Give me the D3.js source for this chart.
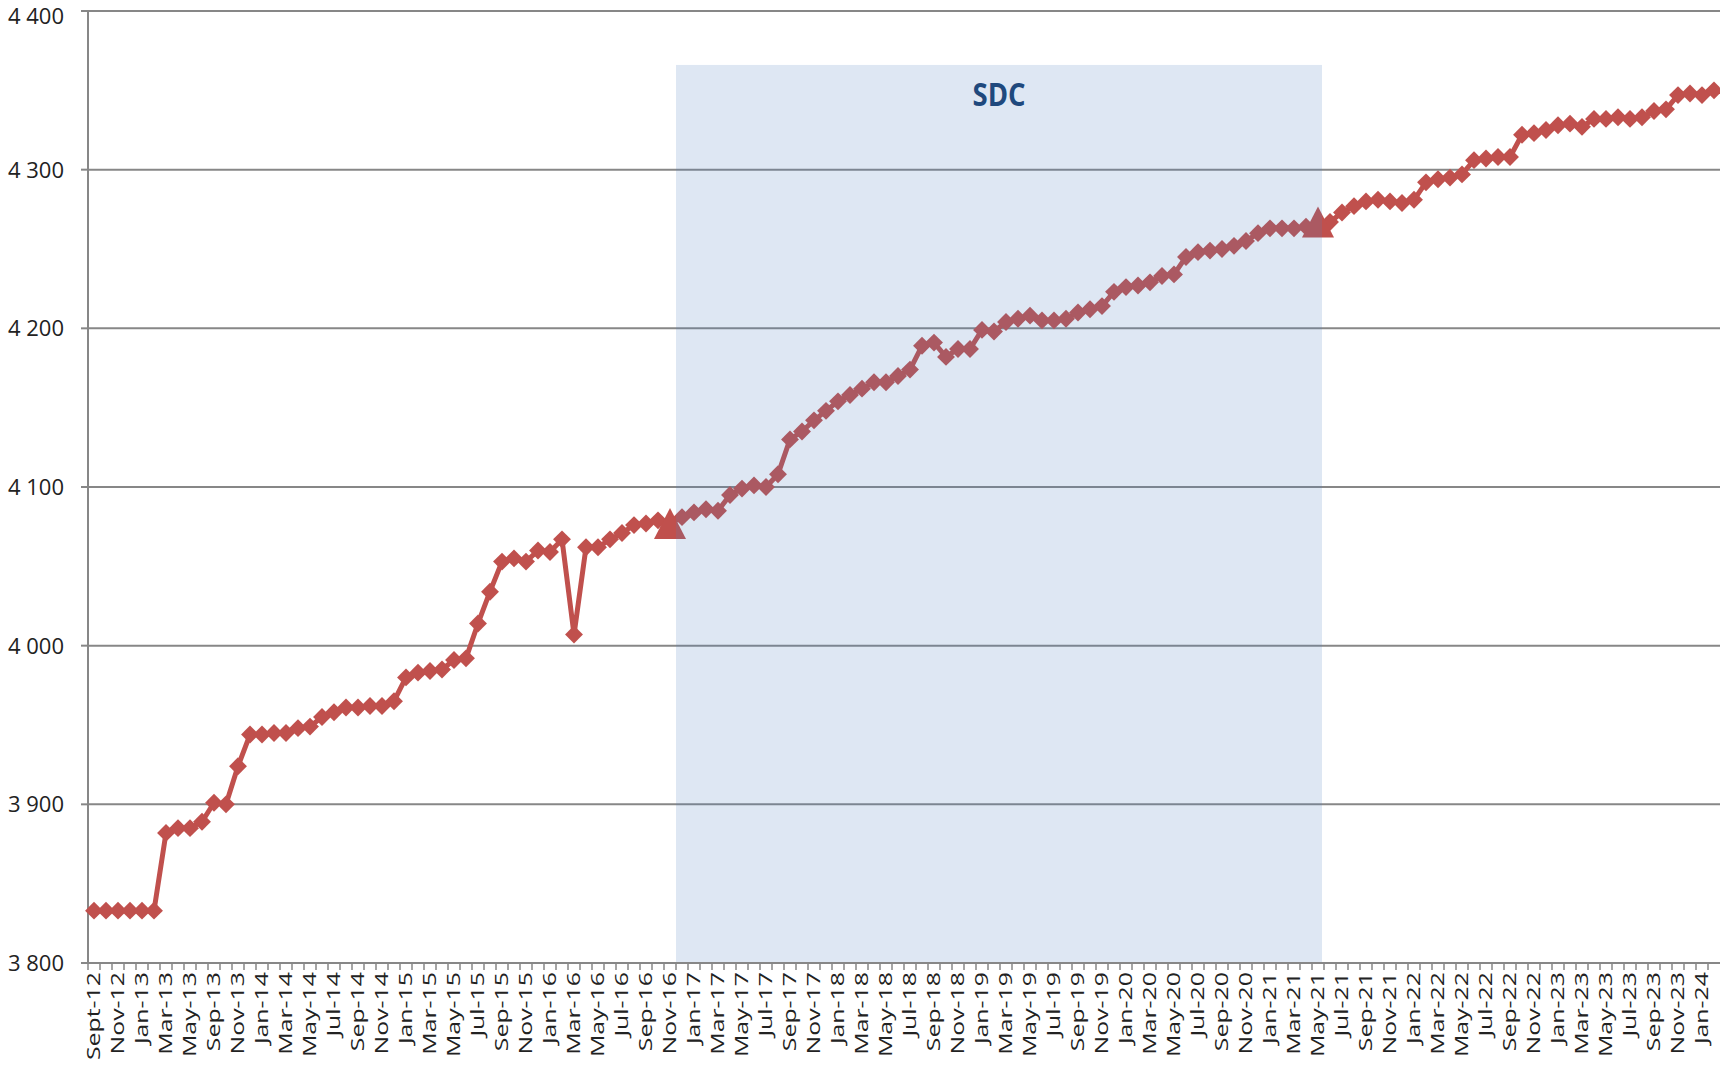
<!DOCTYPE html>
<html>
<head>
<meta charset="utf-8">
<script src="https://cdn.jsdelivr.net/npm/d3@7"></script>
<style>
  html, body { margin: 0; padding: 0; background: #ffffff; }
  svg { display: block; }
</style>
</head>
<body>
<svg id="chart" width="1720" height="1065"></svg>
<script>
// ---------- DATA ----------
const categories = [
  "Sept-12","Oct-12","Nov-12","Dec-12","Jan-13","Feb-13","Mar-13","Apr-13","May-13","Jul-13","Sep-13","Oct-13","Nov-13","Dec-13",
  "Jan-14","Feb-14","Mar-14","Apr-14","May-14","Jun-14","Jul-14","Aug-14","Sep-14","Oct-14","Nov-14","Dec-14",
  "Jan-15","Feb-15","Mar-15","Apr-15","May-15","Jun-15","Jul-15","Aug-15","Sep-15","Oct-15","Nov-15","Dec-15",
  "Jan-16","Feb-16","Mar-16","Apr-16","May-16","Jun-16","Jul-16","Aug-16","Sep-16","Oct-16","Nov-16","Dec-16",
  "Jan-17","Feb-17","Mar-17","Apr-17","May-17","Jun-17","Jul-17","Aug-17","Sep-17","Oct-17","Nov-17","Dec-17",
  "Jan-18","Feb-18","Mar-18","Apr-18","May-18","Jun-18","Jul-18","Aug-18","Sep-18","Oct-18","Nov-18","Dec-18",
  "Jan-19","Feb-19","Mar-19","Apr-19","May-19","Jun-19","Jul-19","Aug-19","Sep-19","Oct-19","Nov-19","Dec-19",
  "Jan-20","Feb-20","Mar-20","Apr-20","May-20","Jun-20","Jul-20","Aug-20","Sep-20","Oct-20","Nov-20","Dec-20",
  "Jan-21","Feb-21","Mar-21","Apr-21","May-21","Jun-21","Jul-21","Aug-21","Sep-21","Oct-21","Nov-21","Dec-21",
  "Jan-22","Feb-22","Mar-22","Apr-22","May-22","Jun-22","Jul-22","Aug-22","Sep-22","Oct-22","Nov-22","Dec-22",
  "Jan-23","Feb-23","Mar-23","Apr-23","May-23","Jun-23","Jul-23","Aug-23","Sep-23","Oct-23","Nov-23","Dec-23",
  "Jan-24","Feb-24"
];

const values = [
  3833,3833,3833,3833,3833,3833,3882,3885,3885,3889,3901,3900,3924,3944,
  3944,3945,3945,3948,3949,3955,3958,3961,3961,3962,3962,3965,
  3980,3983,3984,3985,3991,3992,4014,4034,4053,4055,4053,4060,
  4059,4067,4007,4062,4062,4067,4071,4076,4077,4079,4077,4081,
  4084,4086,4085,4095,4099,4101,4100,4108,4130,4135,4142,4148,
  4154,4158,4162,4166,4166,4170,4174,4189,4191,4182,4187,4187,
  4199,4198,4204,4206,4208,4205,4205,4206,4210,4212,4214,4223,
  4226,4227,4229,4233,4234,4245,4248,4249,4250,4252,4255,4260,
  4263,4263,4263,4264,4267,4267,4273,4277,4280,4281,4280,4279,
  4281,4292,4294,4295,4297,4306,4307,4308,4308,4322,4323,4325,
  4328,4329,4327,4332,4332,4333,4332,4333,4337,4338,4347,4348,
  4347,4350
];

const yTicks = [3800, 3900, 4000, 4100, 4200, 4300, 4400];
const triangleCats = ["Nov-16", "May-21"];
const shadeStart = "Nov-16";
const shadeEnd = "May-21";
const shadeTop = 4366;
const shadeLabel = "SDC";

(function () {
// ---------- LAYOUT ----------
const mLeft = 88, mRight = 1720, mTop = 11, mBottom = 963;
const svg = d3.select("#chart");

const x = d3.scaleBand().domain(categories).range([mLeft, mRight]).paddingInner(0).paddingOuter(0);
const bw = x.bandwidth();
const cx = c => x(c) + bw / 2;
const y = d3.scaleLinear().domain([3800, 4400]).range([mBottom, mTop]);

const data = categories.map((c, i) => ({ cat: c, v: values[i] }));
const fmt = d3.formatLocale({ decimal: ",", thousands: " ", grouping: [3], currency: ["", ""] }).format(",");

const gridColor = "#878787";
const red = "#c0504d";

// gridlines
svg.append("g").selectAll("line").data(yTicks.filter(t => t !== 3800)).join("line")
  .attr("x1", mLeft).attr("x2", mRight)
  .attr("y1", d => y(d)).attr("y2", d => y(d))
  .attr("stroke", gridColor).attr("stroke-width", 2);

// y axis line + ticks
svg.append("line").attr("x1", mLeft).attr("x2", mLeft).attr("y1", y(4400)).attr("y2", y(3800))
  .attr("stroke", gridColor).attr("stroke-width", 2);
svg.append("g").selectAll("line").data(yTicks).join("line")
  .attr("x1", mLeft - 7).attr("x2", mLeft)
  .attr("y1", d => y(d)).attr("y2", d => y(d))
  .attr("stroke", gridColor).attr("stroke-width", 2);

// y labels
svg.append("g").selectAll("text").data(yTicks).join("text")
  .attr("x", 64).attr("y", d => y(d)).attr("dy", d => d === 4400 ? "0.58em" : "0.36em")
  .attr("text-anchor", "end")
  .attr("font-family", "'Open Sans', sans-serif").attr("font-size", 22)
  .attr("fill", "#222")
  .text(d => fmt(d));

// x axis line + ticks
svg.append("line").attr("x1", mLeft).attr("x2", mRight).attr("y1", mBottom).attr("y2", mBottom)
  .attr("stroke", gridColor).attr("stroke-width", 2);
svg.append("g").selectAll("line").data(categories).join("line")
  .attr("x1", d => x(d)).attr("x2", d => x(d))
  .attr("y1", mBottom).attr("y2", mBottom + 7)
  .attr("stroke", gridColor).attr("stroke-width", 1.5);

// x labels (every second category)
svg.append("g").selectAll("text").data(categories.filter((c, i) => i % 2 === 0)).join("text")
  .attr("transform", d => `translate(${cx(d)},${mBottom + 9}) rotate(-90) scale(1.38,1)`)
  .attr("dy", "0.36em")
  .attr("text-anchor", "end")
  .attr("font-family", "'Open Sans', sans-serif").attr("font-size", 18)
  .attr("fill", "#222")
  .text(d => d);

// line
const line = d3.line().x(d => cx(d.cat)).y(d => y(d.v));
svg.append("path").datum(data)
  .attr("d", line).attr("fill", "none")
  .attr("stroke", red).attr("stroke-width", 5).attr("stroke-linejoin", "round");

// diamond markers
const diamond = d3.symbol().type(d3.symbolSquare).size(160);
svg.append("g").selectAll("path").data(data.filter(d => !triangleCats.includes(d.cat))).join("path")
  .attr("d", diamond)
  .attr("transform", d => `translate(${cx(d.cat)},${y(d.v)}) rotate(45)`)
  .attr("fill", red);

// triangle markers
const triType = { draw(ctx, size) { const w = 16, h = 15.5; ctx.moveTo(0, -h); ctx.lineTo(w, h); ctx.lineTo(-w, h); ctx.closePath(); } };
svg.append("g").selectAll("path").data(data.filter(d => triangleCats.includes(d.cat))).join("path")
  .attr("d", d3.symbol().type(triType))
  .attr("transform", d => `translate(${cx(d.cat)},${y(d.v)})`)
  .attr("fill", red);

// shaded SDC region (semi-transparent, drawn over the line)
const sx0 = cx(shadeStart) + bw / 2;
const sx1 = cx(shadeEnd) + bw / 3;
svg.append("rect")
  .attr("x", sx0).attr("y", y(shadeTop))
  .attr("width", sx1 - sx0).attr("height", y(3800) - y(shadeTop) - 1)
  .attr("fill", "#4f81bd").attr("fill-opacity", 0.19);

svg.append("text")
  .attr("x", (sx0 + sx1) / 2).attr("y", y(shadeTop) + 41)
  .attr("text-anchor", "middle")
  .attr("font-family", "'Open Sans', sans-serif").attr("font-weight", "bold").attr("font-size", 32)
  .attr("textLength", 53).attr("lengthAdjust", "spacingAndGlyphs")
  .attr("fill", "#1f497d")
  .text(shadeLabel);
})();
</script>
</body>
</html>
